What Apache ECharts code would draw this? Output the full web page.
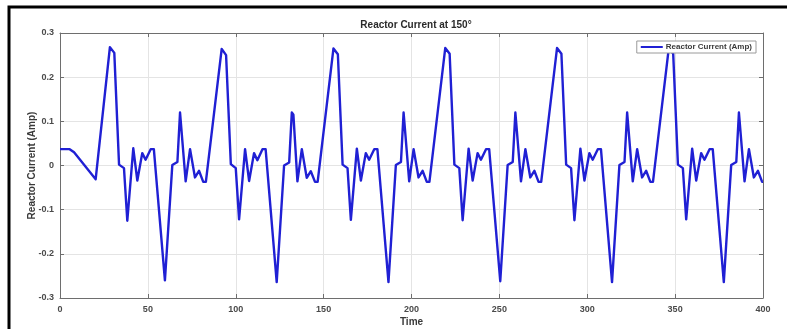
<!DOCTYPE html>
<html>
<head>
<meta charset="utf-8">
<script src="https://cdn.jsdelivr.net/npm/echarts@6/dist/echarts.min.js"></script>
<style>
html,body{margin:0;padding:0;background:#fff;}
#chart{width:787px;height:329px;}
</style>
</head>
<body>
<div id="chart"></div>
<script>
const chartTitle = 'Reactor Current at 150°';
const seriesName = 'Reactor Current (Amp)';
const xAxisName = 'Time';
const yAxisName = 'Reactor Current (Amp)';
const xTicks = [0, 50, 100, 150, 200, 250, 300, 350, 400];
const yTicks = [-0.3, -0.2, -0.1, 0, 0.1, 0.2, 0.3];

const timeValues = [
  0, 5.5, 8, 20.3,
  28.4, 30.9, 33.6, 36.4, 38.3, 41.7, 44.0, 46.8, 48.7, 51.6, 53.4, 59.7, 63.9, 66.8, 68.3, 69.2, 71.5, 74.0, 76.8, 79.1, 81.5, 83.0,
  92.0, 94.5, 97.2, 100.0, 101.9, 105.3, 107.6, 110.4, 112.3, 115.2, 117.0, 123.3, 127.5, 130.4, 131.9, 132.8, 135.1, 137.6, 140.4, 142.7, 145.1, 146.6,
  155.6, 158.1, 160.8, 163.6, 165.5, 168.9, 171.2, 174.0, 175.9, 178.8, 180.6, 186.9, 191.1, 194.0, 195.5, 196.4, 198.7, 201.2, 204.0, 206.3, 208.7, 210.2,
  219.2, 221.7, 224.4, 227.2, 229.1, 232.5, 234.8, 237.6, 239.5, 242.4, 244.2, 250.5, 254.7, 257.6, 259.1, 260.0, 262.3, 264.8, 267.6, 269.9, 272.3, 273.8,
  282.8, 285.3, 288.0, 290.8, 292.7, 296.1, 298.4, 301.2, 303.1, 306.0, 307.8, 314.1, 318.3, 321.2, 322.7, 323.6, 325.9, 328.4, 331.2, 333.5, 335.9, 337.4,
  346.4, 348.9, 351.6, 354.4, 356.3, 359.7, 362.0, 364.8, 366.7, 369.6, 371.4, 377.7, 381.9, 384.8, 386.3, 387.2, 389.5, 392.0, 394.8, 397.1, 399.5, 400
];

const currentValues = [
  0.037, 0.037, 0.030, -0.031,
  0.268, 0.255, 0.002, -0.006, -0.125, 0.039, -0.034, 0.028, 0.013, 0.037, 0.037, -0.260, 0.001, 0.008, 0.120, 0.116, -0.036, 0.037, -0.027, -0.012, -0.037, -0.037,
  0.264, 0.250, 0.003, -0.006, -0.122, 0.037, -0.035, 0.028, 0.012, 0.037, 0.037, -0.264, 0.000, 0.007, 0.120, 0.115, -0.036, 0.037, -0.028, -0.013, -0.037, -0.037,
  0.265, 0.252, 0.002, -0.006, -0.123, 0.038, -0.034, 0.028, 0.013, 0.037, 0.037, -0.264, 0.001, 0.008, 0.120, 0.116, -0.036, 0.037, -0.027, -0.012, -0.037, -0.037,
  0.266, 0.253, 0.002, -0.006, -0.124, 0.038, -0.034, 0.028, 0.013, 0.037, 0.037, -0.262, 0.001, 0.008, 0.120, 0.116, -0.036, 0.037, -0.027, -0.012, -0.037, -0.037,
  0.266, 0.253, 0.002, -0.006, -0.124, 0.038, -0.034, 0.028, 0.013, 0.037, 0.037, -0.264, 0.001, 0.008, 0.120, 0.116, -0.036, 0.037, -0.027, -0.012, -0.037, -0.037,
  0.266, 0.253, 0.002, -0.006, -0.122, 0.038, -0.034, 0.028, 0.013, 0.037, 0.037, -0.264, 0.001, 0.008, 0.120, 0.116, -0.036, 0.037, -0.027, -0.012, -0.037, -0.037
];

const seriesData = timeValues.map((t, i) => [t, currentValues[i]]);

const chart = echarts.init(document.getElementById('chart'), null, {renderer: 'canvas'});
const fontFamily = 'Liberation Sans, Arial, sans-serif';
const axisColor = '#6e6e6e';
const labelStyle = {color: '#4a4a4a', fontSize: 9, fontWeight: 'bold', fontFamily};

const xBase = {
  type: 'value', min: xTicks[0], max: xTicks[xTicks.length - 1], interval: 50,
  axisLine: {show: true, onZero: false, lineStyle: {color: axisColor, width: 1}},
  axisTick: {show: true, inside: true, length: 4, lineStyle: {color: axisColor}},
};
const yBase = {
  type: 'value', min: yTicks[0], max: yTicks[yTicks.length - 1], interval: 0.1,
  axisLine: {show: true, onZero: false, lineStyle: {color: axisColor, width: 1}},
  axisTick: {show: true, inside: true, length: 4, lineStyle: {color: axisColor}},
};

chart.setOption({
  animation: false,
  backgroundColor: '#fff',
  title: {
    text: chartTitle, left: 411, top: 15, textAlign: 'center',
    textStyle: {fontSize: 10, fontWeight: 'bold', color: '#2a2a2a', fontFamily}
  },
  legend: {
    right: 31, top: 41, padding: [2, 4, 2, 4],
    backgroundColor: '#fff', borderColor: '#9a9a9a', borderWidth: 1, borderRadius: 0,
    itemWidth: 22, itemHeight: 2, icon: 'rect', itemGap: 4,
    textStyle: {fontSize: 8, fontWeight: 'bold', color: '#3a3a3a', fontFamily, padding: [0, 0, 0, -2]},
    data: [seriesName]
  },
  grid: {left: 60, right: 24, top: 33, bottom: 31, containLabel: false, outerBoundsMode: 'none'},
  xAxis: [
    Object.assign({}, xBase, {
      position: 'bottom',
      name: xAxisName, nameLocation: 'middle', nameGap: 19, nameMoveOverlap: false,
      nameTextStyle: {fontSize: 10, fontWeight: 'bold', color: '#3a3a3a', fontFamily, verticalAlign: 'top'},
      axisLabel: Object.assign({margin: 7}, labelStyle),
      splitLine: {show: true, lineStyle: {color: '#e4e4e4', width: 1}}
    }),
    Object.assign({}, xBase, {
      position: 'top', axisLabel: {show: false}, splitLine: {show: false}
    })
  ],
  yAxis: [
    Object.assign({}, yBase, {
      position: 'left',
      name: yAxisName, nameLocation: 'middle', nameGap: 28, nameRotate: 90, nameMoveOverlap: false,
      nameTextStyle: {fontSize: 10, fontWeight: 'bold', color: '#3a3a3a', fontFamily, verticalAlign: 'middle'},
      axisLabel: Object.assign({margin: 6, formatter: v => String(+v.toFixed(1))}, labelStyle),
      splitLine: {show: true, lineStyle: {color: '#e4e4e4', width: 1}}
    }),
    Object.assign({}, yBase, {
      position: 'right', axisLabel: {show: false}, splitLine: {show: false}
    })
  ],
  graphic: [{
    type: 'rect', silent: true, z: 100,
    shape: {x: 9, y: 7, width: 800, height: 340},
    style: {fill: 'none', stroke: '#000', lineWidth: 3}
  }],
  series: [{
    name: seriesName, type: 'line', xAxisIndex: 0, yAxisIndex: 0,
    data: seriesData, showSymbol: false, smooth: false,
    lineStyle: {color: '#2020d4', width: 2.4, join: 'round'},
    itemStyle: {color: '#2020d4'}
  }]
});
</script>
</body>
</html>
